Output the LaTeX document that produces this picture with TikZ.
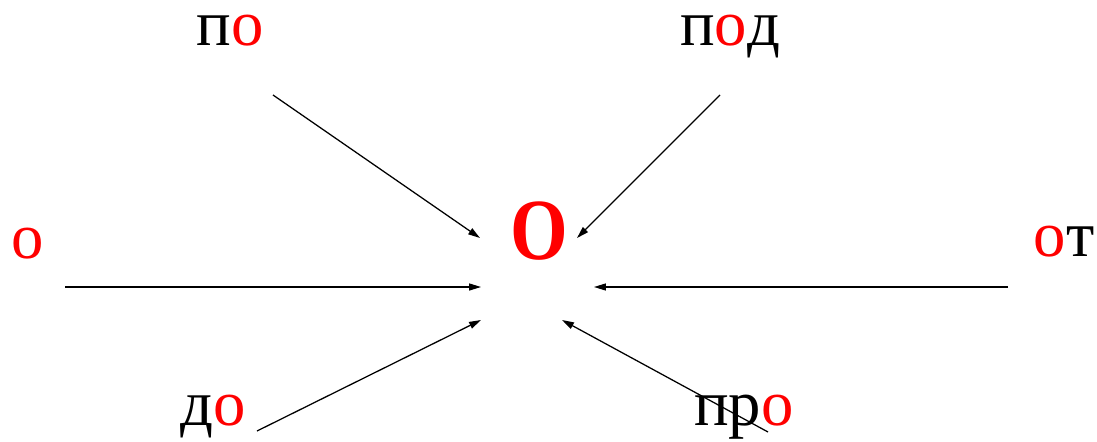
\documentclass[tikz,border=0pt]{standalone}
\usepackage{fontspec}
\setmainfont{Liberation Serif}
\usetikzlibrary{arrows.meta}
\tikzset{
  word/.style={anchor=base, inner sep=0pt, text height=0.6em, text depth=0.2em, font=\fontsize{46}{50}\selectfont},
  pointer/.style={-{Triangle[length=8.5pt,width=5pt]}, line width=0.9pt},
}
\newcommand{\ro}{\textcolor{red}{о}}
\begin{document}
\begin{tikzpicture}[x=0.025cm, y=-0.025cm]
\useasboundingbox (0,0) rectangle (1097,441);
\node[inner sep=0pt, text=red, font=\fontsize{62}{66}\selectfont\bfseries] (center) at (539,231) {\scalebox{0.85}[1]{О}};
\node[word] (po) at (230,45) {п\ro};
\node[word] (pod) at (730,45) {п\ro д};
\node[word] (o) at (27.5,258) {\ro};
\node[word] (ot) at (1064,256) {\ro т};
\node[word] (do) at (213,425) {д\ro};
\node[word] (pro) at (744,425) {пр\ro};
\coordinate (po tail) at (273,95);
\coordinate (po tip) at (480,238);
\coordinate (pod tail) at (720,95);
\coordinate (pod tip) at (577,238);
\coordinate (o tail) at (65,287);
\coordinate (o tip) at (481,287);
\coordinate (ot tail) at (1008,287);
\coordinate (ot tip) at (594,287);
\coordinate (do tail) at (257,431);
\coordinate (do tip) at (481,320);
\coordinate (pro tail) at (768,432);
\coordinate (pro tip) at (562,320);
\draw[pointer] (po tail) -- (po tip);
\draw[pointer] (pod tail) -- (pod tip);
\draw[pointer] (o tail) -- (o tip);
\draw[pointer] (ot tail) -- (ot tip);
\draw[pointer] (do tail) -- (do tip);
\draw[pointer] (pro tail) -- (pro tip);
\end{tikzpicture}
\end{document}
